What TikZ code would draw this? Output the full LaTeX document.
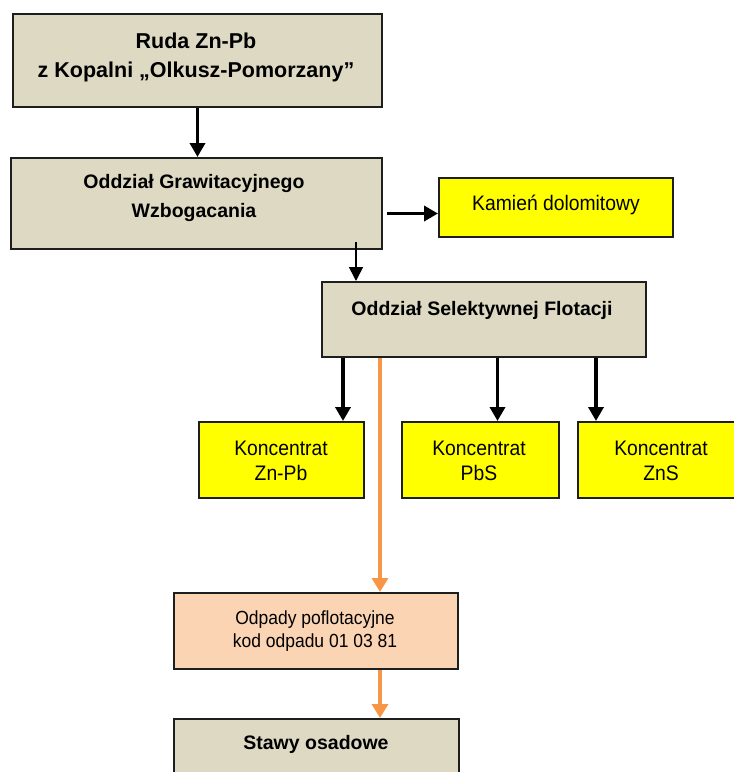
\documentclass[tikz,border=0pt]{standalone}
\usepackage{fontspec}
\setmainfont{Liberation Sans}
\newfontfamily\regfont{Liberation Sans}[FakeStretch=0.92]
\usetikzlibrary{arrows.meta}

\definecolor{tanfill}{HTML}{DDD9C3}
\definecolor{yelfill}{HTML}{FFFF00}
\definecolor{peachfill}{HTML}{FBD4B4}
\definecolor{flowline}{HTML}{F79646}
\definecolor{boxline}{HTML}{1E1E1E}

\tikzset{
  box/.style={draw=boxline, line width=2pt, inner sep=0pt, anchor=north west},
  tanbox/.style={box, fill=tanfill},
  yelbox/.style={box, fill=yelfill},
  peachbox/.style={box, fill=peachfill},
  % text nodes are placed by the baseline of their last line
  boldtxt/.style={anchor=base, align=center, inner sep=0pt,
    font=\bfseries\fontsize{19.5}{29}\selectfont},
  regtxt/.style={anchor=base, align=center, inner sep=0pt,
    font=\regfont\fontsize{21}{25}\selectfont},
  flow/.style={line width=3.5pt, -{Triangle[length=14pt, width=15pt]}},
  thinflow/.style={line width=1.6pt, -{Triangle[length=14pt, width=14pt]}},
  waste/.style={flow, draw=flowline, -{Triangle[length=14pt, width=16pt, fill=flowline]}},
}

\begin{document}
\begin{tikzpicture}[x=1pt, y=-1pt]
\useasboundingbox (0,0) rectangle (734,772);
\clip (0,0) rectangle (734,772);

% process boxes
\node[tanbox, minimum width=369pt, minimum height=93pt] (ruda) at (12,13) {};
\node[tanbox, minimum width=371pt, minimum height=91pt] (grav) at (10,157) {};
\node[yelbox, minimum width=234pt, minimum height=59pt] (kamien) at (438,177) {};
\node[tanbox, minimum width=324pt, minimum height=75pt] (selek) at (321,281) {};
\node[yelbox, minimum width=165pt, minimum height=76pt] (kznpb) at (198,421) {};
\node[yelbox, minimum width=157pt, minimum height=76pt] (kpbs) at (401,421) {};
\node[yelbox, minimum width=170pt, minimum height=76pt] (kzns) at (577,421) {};
\node[peachbox, minimum width=284pt, minimum height=76pt] (odpady) at (173,592) {};
\node[tanbox, minimum width=285pt, minimum height=80pt] (stawy) at (173,718) {};

% labels
\node[boldtxt, font=\bfseries\fontsize{21.5}{29}\selectfont] (ruda-t) at (196,77)
  {Ruda Zn-Pb\\z Kopalni „Olkusz-Pomorzany”};
\node[boldtxt] (grav-t) at (194,217) {Oddział Grawitacyjnego\\Wzbogacania};
\node[regtxt] (kamien-t) at (556,210) {Kamień dolomitowy};
\node[boldtxt] (selek-t) at (482,315) {Oddział Selektywnej Flotacji};
\node[regtxt] (kznpb-t) at (281,480) {Koncentrat\\Zn-Pb};
\node[regtxt] (kpbs-t) at (479,480) {Koncentrat\\PbS};
\node[regtxt] (kzns-t) at (661,480) {Koncentrat\\ZnS};
\node[regtxt, font=\regfont\fontsize{19}{22.7}\selectfont] (odpady-t) at (315,647)
  {Odpady poflotacyjne\\kod odpadu 01 03 81};
\node[boldtxt] (stawy-t) at (316,749) {Stawy osadowe};

% connector anchors
\coordinate (g1) at ([shift={(4pt,-10pt)}]grav.east);
\coordinate (g2) at ([shift={(-27pt,8pt)}]grav.south east);
\coordinate (a1) at ([xshift=-22pt]kznpb.north east);
\coordinate (a2) at ([xshift=17pt]kpbs.north);
\coordinate (a3) at ([xshift=19pt]kzns.north west);
\coordinate (o1) at ([xshift=59pt]selek.south west);

% main flow
\draw[flow] (ruda.south) -- (ruda.south |- grav.north);
\draw[flow] (g1) -- (g1 -| kamien.west);
\draw[thinflow] (g2) -- (g2 |- selek.north);
\draw[flow] (selek.south -| a1) -- (a1);
\draw[flow] (selek.south -| a2) -- (a2);
\draw[flow] (selek.south -| a3) -- (a3);

% tailings
\draw[waste] (o1) -- (o1 |- odpady.north);
\draw[waste] (odpady.south -| o1) -- (o1 |- stawy.north);
\end{tikzpicture}
\end{document}
